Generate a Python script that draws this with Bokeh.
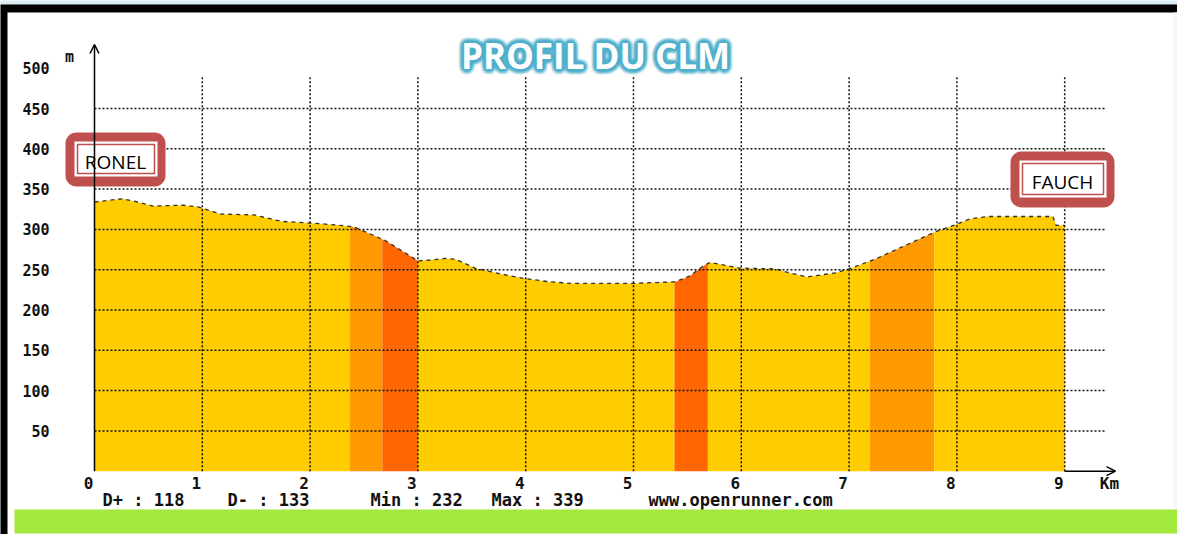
import numpy as np
from bokeh.plotting import figure
from bokeh.models import Range1d, Arrow, OpenHead
from bokeh.core.properties import value
from bokeh.embed import file_html
from bokeh.resources import INLINE

# ---------------- data ----------------
dist_km = [0.00, 0.06, 0.26, 0.40, 0.54, 0.82, 0.96, 1.17, 1.48, 1.73, 2.10, 2.28,
           2.41, 2.70, 3.00, 3.11, 3.26, 3.35, 3.53, 3.76, 3.99, 4.22, 4.43, 4.99,
           5.39, 5.52, 5.64, 5.71, 5.83, 5.98, 6.32, 6.45, 6.61, 6.87, 7.00, 7.24,
           7.80, 7.99, 8.12, 8.28, 8.89, 8.92, 9.00]
elev_m = [334, 335, 338, 334, 329, 330, 328, 319, 318, 310, 307, 305,
          303, 286, 261, 262, 264, 263, 252, 245, 239, 235, 233, 233,
          235, 242, 254, 259, 256, 252, 251, 246, 241, 246, 251, 263,
          297, 306, 313, 316, 316, 305, 305]

# slope classes along the route (km boundaries) and their colours
seg_bounds_km = [0.0, 2.37, 2.67, 3.00, 5.38, 5.69, 7.19, 7.79, 9.00]
seg_colors = ["#ffcc00", "#ff9900", "#ff6600", "#ffcc00",
              "#ff6600", "#ffcc00", "#ff9900", "#ffcc00"]

x_ticks = [0, 1, 2, 3, 4, 5, 6, 7, 8, 9]
x_tick_labels = [str(t) for t in x_ticks]
y_ticks = [50, 100, 150, 200, 250, 300, 350, 400, 450, 500]
y_tick_labels = [str(t) for t in y_ticks]

stat_names = ["D+", "D-", "Min", "Max"]
stat_values = [118, 133, 232, 339]
place_names = ["RONEL", "FAUCH"]
title_text = "PROFIL DU CLM"
credit_text = "www.openrunner.com"

# ---------------- layout helpers (page pixels -> data units) ----------------
W, H = 1177, 534
PX_PER_KM = 107.8
PX_PER_M = 0.806
X0_PAGE = 102.0   # page px of km 0
Y0_PAGE = 478.7   # page px of 0 m


def X(px):
    return (px - X0_PAGE) / PX_PER_KM


def Y(py):
    return (Y0_PAGE - py) / PX_PER_M


p = figure(width=W, height=H, output_backend="svg", toolbar_location=None,
           x_range=Range1d(X(8), X(8 + W)), y_range=Range1d(Y(8 + H), Y(8)),
           x_axis_type=None, y_axis_type=None, min_border=0, title=None)
p.outline_line_color = None
p.grid.visible = False
p.background_fill_color = "#d9edf5"
p.border_fill_color = "#d9edf5"

# frame
p.quad(left=X(7), right=X(1210), top=Y(12), bottom=Y(600), fill_color="black", line_color=None)
p.quad(left=X(15), right=X(1210), top=Y(20), bottom=Y(600), fill_color="white", line_color=None)
p.quad(left=X(1181), right=X(1210), top=Y(20), bottom=Y(600), fill_color="#f4f8f9", line_color=None)

# coloured profile areas
dist = np.array(dist_km, dtype=float)
elev = np.array(elev_m, dtype=float)
for a, b, c in zip(seg_bounds_km[:-1], seg_bounds_km[1:], seg_colors):
    xs = [a] + [d for d in dist_km if a < d < b] + [b]
    ys = np.interp(xs, dist, elev)
    p.varea(x=xs, y1=[0] * len(xs), y2=list(ys), fill_color=c)

# profile outline
p.line(dist_km, elev_m, line_color="#333333", line_width=1.3, line_dash="4 4")

# grid (dotted)
gx = x_ticks[1:]
p.segment(x0=gx, y0=[0] * len(gx), x1=gx, y1=[Y(84)] * len(gx),
          line_color="#111111", line_width=1.5, line_dash="2 2")
gy = y_ticks[:-1]
p.segment(x0=[0] * len(gy), y0=gy, x1=[X(1113)] * len(gy), y1=gy,
          line_color="#111111", line_width=1.5, line_dash="2 2")

# axes with arrows
p.add_layout(Arrow(end=OpenHead(size=9, line_width=1.5, line_color="black"),
                   x_start=0, y_start=0, x_end=0, y_end=Y(52),
                   line_width=1.5, line_color="black"))
p.add_layout(Arrow(end=OpenHead(size=9, line_width=1.5, line_color="black"),
                   x_start=x_ticks[-1], y_start=0, x_end=X(1123), y_end=0,
                   line_width=1.5, line_color="black"))

mono = value("DejaVu Sans Mono")
# y tick labels
p.text(x=[X(57)] * len(y_ticks), y=y_ticks, text=y_tick_labels, text_font=mono,
       text_font_style="bold", text_font_size="15px", text_align="right",
       text_baseline="middle", text_color="#111111")
p.text(x=[X(77)], y=[Y(64)], text=["m"], text_font=mono, text_font_style="bold",
       text_font_size="15px", text_align="center", text_baseline="middle", text_color="#111111")
# x tick labels
p.text(x=x_ticks, y=[Y(490)] * len(x_ticks), text=x_tick_labels, text_font=mono,
       text_font_style="bold", text_font_size="16px", text_align="center",
       text_baseline="middle", text_color="#111111", x_offset=-6)
p.text(x=[X(1117)], y=[Y(491)], text=["Km"], text_font=mono, text_font_style="bold",
       text_font_size="16px", text_align="center", text_baseline="middle", text_color="#111111")

# statistics row
stat_text = [f"{n} : {v}" for n, v in zip(stat_names, stat_values)] + [credit_text]
stat_left = [X(110), X(235), X(378), X(499), X(656)]
p.text(x=stat_left, y=[Y(507)] * len(stat_left), text=stat_text, text_font=mono,
       text_font_style="bold", text_font_size="17px", text_align="left",
       text_baseline="middle", text_color="#111111")

# green bar
p.quad(left=X(22), right=X(1190), top=Y(517), bottom=Y(541), fill_color="#a3e83c", line_color=None)

# title with glow
tx, ty = X(603), Y(63)
for r, a in [(6, 0.08), (5, 0.12), (4, 0.18), (3, 0.28), (2, 0.45), (1, 0.7)]:
    angs = np.linspace(0, 2 * np.pi, 16, endpoint=False)
    for ang in angs:
        p.text(x=[tx], y=[ty], text=[title_text], text_font=value("Open Sans"),
               text_font_style="bold", text_font_size="35px", text_align="center",
               text_baseline="middle", text_color="#4fb0cc", text_alpha=a,
               x_offset=float(r * np.cos(ang)), y_offset=float(r * np.sin(ang)))
p.text(x=[tx], y=[ty], text=[title_text], text_font=value("Open Sans"),
       text_font_style="bold", text_font_size="35px", text_align="center",
       text_baseline="middle", text_color="white")

# place name boxes
boxes = [(73, 173, 140, 194), (1018, 1122, 159, 215)]
red = "#c0504d"
for name, (l, r, t, b) in zip(place_names, boxes):
    p.quad(left=X(l), right=X(r), top=Y(t), bottom=Y(b), fill_color=red,
           line_color=None, border_radius=11)
    p.quad(left=X(l + 9), right=X(r - 8), top=Y(t + 9), bottom=Y(b - 10),
           fill_color="white", line_color=None)
    p.quad(left=X(l + 12), right=X(r - 11), top=Y(t + 12), bottom=Y(b - 13),
           fill_color="white", line_color=red, line_width=1.5)
    p.text(x=[X((l + r) / 2)], y=[Y((t + b) / 2 + 2)], text=[name],
           text_font=value("Open Sans"), text_font_size="19px", text_align="center",
           text_baseline="middle", text_color="black")

open("out.html", "w").write(file_html(p, INLINE))
